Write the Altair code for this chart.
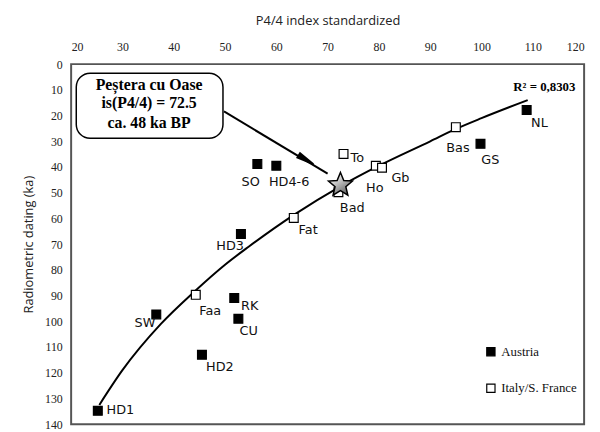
import altair as alt
import pandas as pd

# ---- data ----
names = ["HD1", "SW", "Faa", "RK", "CU", "HD2", "HD3", "Fat", "SO", "HD4-6",
         "To", "Bad", "Ho", "Gb", "Bas", "GS", "NL"]
p44 = [25.2, 36.6, 44.3, 51.8, 52.6, 45.5, 53.1, 63.4, 56.3, 60.0,
       73.1, 72.1, 79.4, 80.6, 95.0, 99.8, 108.8]
ka = [134.8, 97.3, 89.7, 90.9, 99.0, 113.0, 66.0, 59.8, 38.8, 39.5,
      34.9, 49.8, 39.5, 40.3, 24.5, 31.0, 17.8]
region = ["Austria", "Austria", "Italy/S. France", "Austria", "Austria", "Austria",
          "Austria", "Italy/S. France", "Austria", "Austria", "Italy/S. France",
          "Italy/S. France", "Italy/S. France", "Italy/S. France", "Italy/S. France",
          "Austria", "Austria"]
label_x = [29.6, 34.4, 47.1, 54.8, 54.6, 49.0, 51.0, 66.2, 55.0, 62.5,
           75.8, 74.8, 79.2, 84.2, 95.4, 101.7, 111.3]
label_y = [134.6, 100.5, 96.0, 94.0, 103.9, 117.8, 70.6, 64.4, 46.0, 46.0,
           36.4, 56.0, 48.3, 44.1, 32.6, 37.2, 23.0]

# fitted trend curve
curve_x = [25.5, 30, 37.5, 44, 50, 54.6, 63.5, 72.5, 80, 90, 95, 100, 109]
curve_y = [132.5, 119, 101, 88.5, 78, 71, 58.5, 47.5, 39.5, 30, 25.2, 21, 14]

# Pestera cu Oase
oase_x = [72.5]
oase_y = [47.0]

callout_lines = ["Peștera cu Oase", "is(P4/4) = 72.5", "ca. 48 ka BP"]
callout_line_y = [8.05, 15.3, 23.0]
callout_cx = 35.2
callout_box = {"x": 21.0, "x2": 49.6, "y": 3.5, "y2": 28.8}
arrow = {"x": 49.8, "y": 18.4, "x2": 70.0, "y2": 42.6}
arrow_head = {"x": 65.8, "y": 37.2}
r2_text = "R² = 0,8303"
r2_pos = {"x": 118.3, "y": 8.8}

# ---- tables ----
pts = pd.DataFrame({"x": p44, "y": ka, "region": region})
labs = pd.DataFrame({"x": label_x, "y": label_y, "name": names})
curve = pd.DataFrame({"x": curve_x, "y": curve_y})
star = pd.DataFrame({"x": oase_x, "y": oase_y})
callout = pd.DataFrame({"x": [callout_cx] * 3, "y": callout_line_y, "t": callout_lines})
box = pd.DataFrame([callout_box])
arr = pd.DataFrame([arrow])
head = pd.DataFrame([arrow_head])
r2 = pd.DataFrame([{**r2_pos, "t": r2_text}])

xs = alt.Scale(domain=[20, 120], nice=False, zero=False)
ys = alt.Scale(domain=[0, 140], nice=False, reverse=True, zero=False)
X = alt.X("x:Q", scale=xs, axis=alt.Axis(orient="top", values=list(range(20, 121, 10)),
                                         title="P4/4 index standardized",
                                         labelPadding=11, titlePadding=13))
Y = alt.Y("y:Q", scale=ys, axis=alt.Axis(values=list(range(0, 141, 10)),
                                         title="Radiometric dating (ka)",
                                         labelPadding=9, titlePadding=9))

line = alt.Chart(curve).mark_line(color="black", strokeWidth=2, interpolate="monotone").encode(x=X, y=Y)

points = alt.Chart(pts).mark_point(shape="square", filled=True, size=80, stroke="black",
                                   strokeWidth=1.2, opacity=1).encode(
    x=X, y=Y,
    fill=alt.Fill("region:N",
                  scale=alt.Scale(domain=["Austria", "Italy/S. France"], range=["black", "white"]),
                  legend=alt.Legend(title=None, orient="none", legendX=419, legendY=285,
                                    symbolType="square", symbolSize=70,
                                    symbolStrokeColor="black", symbolStrokeWidth=1.2,
                                    labelFont="Liberation Serif", labelFontSize=13,
                                    labelColor="#111", rowPadding=22, labelOffset=4))
)

texts = alt.Chart(labs).mark_text(font="DejaVu Sans", fontSize=13, color="#111").encode(
    x=X, y=Y, text="name:N")

star_path = ("M0,-1 L0.2645,-0.364 L0.951,-0.309 L0.428,0.139 L0.588,0.809 L0,0.45 "
             "L-0.588,0.809 L-0.428,0.139 L-0.951,-0.309 L-0.2645,-0.364 Z")
grad = alt.LinearGradient(gradient="linear",
                          stops=[alt.GradientStop(offset=0, color="#ffffff"),
                                 alt.GradientStop(offset=1, color="#555555")],
                          x1=0.2, y1=0.1, x2=0.8, y2=1)
star_mark = alt.Chart(star).mark_point(shape=star_path, size=650, fill=grad, filled=True,
                                       stroke="black", strokeWidth=1.5, opacity=1).encode(x=X, y=Y)

rect = alt.Chart(box).mark_rect(cornerRadius=14, fill="white", stroke="black",
                                strokeWidth=1.5).encode(x=X, x2="x2:Q", y=Y, y2="y2:Q")
ctext = alt.Chart(callout).mark_text(font="Liberation Serif", fontSize=16, fontWeight="bold",
                                     color="black").encode(x=X, y=Y, text="t:N")

arr_line = alt.Chart(arr).mark_rule(color="black", strokeWidth=2).encode(x=X, x2="x2:Q", y=Y, y2="y2:Q")
head_mark = alt.Chart(head).mark_point(shape="M1,0 L-1,-0.3 L-1,0.3 Z", size=300, angle=31,
                                       filled=True, fill="black", stroke="black",
                                       opacity=1).encode(x=X, y=Y)

r2_mark = alt.Chart(r2).mark_text(font="Liberation Serif", fontSize=13, fontWeight="bold",
                                  align="right", color="black").encode(x=X, y=Y, text="t:N")

chart = alt.layer(line, points, texts, star_mark, arr_line, head_mark, rect, ctext, r2_mark).properties(
    width=520, height=365,
    autosize=alt.AutoSizeParams(type="none"),
    padding={"left": 64, "top": 54, "right": 8, "bottom": 5},
).configure_axis(
    grid=False, ticks=False, domain=False,
    labelFont="Liberation Serif", labelFontSize=12, labelColor="#222",
    titleFont="Open Sans", titleFontSize=13, titleFontWeight="normal", titleColor="#222",
).configure_view(stroke="#555", strokeWidth=2)

chart.save("out.html", embed_options={"renderer": "svg", "actions": False})
